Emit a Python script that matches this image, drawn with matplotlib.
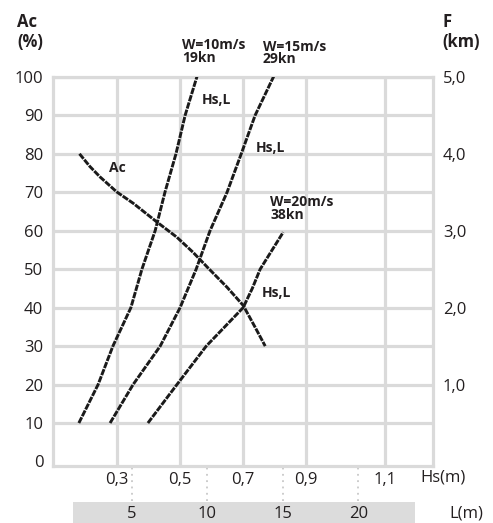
import numpy as np
import matplotlib.pyplot as plt

plt.rcParams['font.family'] = 'Open Sans'

# Hs (m) vs fetch F (km) for three wind speeds
hs_w10 = [0.179, 0.240, 0.287, 0.344, 0.379, 0.421, 0.452, 0.487, 0.516, 0.557]
f_w10 = [0.5, 1.0, 1.5, 2.0, 2.5, 3.0, 3.5, 4.0, 4.5, 5.05]
hs_w15 = [0.278, 0.351, 0.437, 0.500, 0.551, 0.595, 0.649, 0.694, 0.738, 0.802]
f_w15 = [0.5, 1.0, 1.5, 2.0, 2.5, 3.0, 3.5, 4.0, 4.5, 5.05]
hs_w20 = [0.398, 0.490, 0.583, 0.700, 0.729, 0.754, 0.792, 0.827]
f_w20 = [0.5, 1.0, 1.5, 2.0, 2.25, 2.5, 2.75, 2.98]

# Ac (%) vs Hs
hs_ac = [0.181, 0.214, 0.246, 0.299, 0.352, 0.426, 0.490, 0.541, 0.589, 0.649, 0.700, 0.738, 0.770]
ac = [80.0, 76.7, 74.0, 70.1, 67.1, 62.3, 58.3, 54.4, 50.3, 45.3, 40.6, 34.9, 30.0]

hs_ticks = [0.3, 0.5, 0.7, 0.9, 1.1]
ac_ticks = [0, 10, 20, 30, 40, 50, 60, 70, 80, 90, 100]
f_ticks = [1.0, 2.0, 3.0, 4.0, 5.0]
l_ticks = [5, 10, 15, 20]

grid_c = '#dadada'
txt_c = '#231f20'
line_c = '#1a1a1a'

fig = plt.figure(figsize=(4.93, 5.23), dpi=100)
ax = fig.add_axes([0.1075, 0.109, 0.771, 0.744])


# the original Hs axis is stretched after 0,9
def fwd(x):
    return np.interp(x, [-1, 0.9, 2], [-1, 0.9, 2.279])


def inv(x):
    return np.interp(x, [-1, 0.9, 2.279], [-1, 0.9, 2])


ax.set_xscale('function', functions=(fwd, inv))
ax.set_xlim(0.097, 1.221)
ax.set_ylim(-1.17, 100)

for h in hs_ticks:
    ax.axvline(h, color=grid_c, lw=2.3, zorder=0)
for a in ac_ticks[1:]:
    ax.axhline(a, color=grid_c, lw=2.3, zorder=0)
for s in ax.spines.values():
    s.set_color(grid_c)
    s.set_linewidth(2.3)

ax.set_xticks(hs_ticks)
ax.set_xticklabels([str(h).replace('.', ',') for h in hs_ticks])
ax.set_yticks(ac_ticks)
ax.tick_params(length=0, labelsize=12, colors=txt_c)
ax.tick_params(axis='y', pad=7)
ax.tick_params(axis='x', pad=4)

ax2 = ax.twinx()
ax2.set_ylim(-1.17 / 20, 5.0)
ax2.set_yticks(f_ticks)
ax2.set_yticklabels([f'{f:.1f}'.replace('.', ',') for f in f_ticks])
ax2.tick_params(length=0, labelsize=12, colors=txt_c, pad=7)
for s in ax2.spines.values():
    s.set_visible(False)

dash = (0, (2.2, 0.4))
ax2.plot(hs_w10, f_w10, color=line_c, lw=2.1, ls=dash)
ax2.plot(hs_w15, f_w15, color=line_c, lw=2.1, ls=dash)
ax2.plot(hs_w20, f_w20, color=line_c, lw=2.1, ls=dash)
ax.plot(hs_ac, ac, color=line_c, lw=2.1, ls=dash)

lab = dict(fontsize=10, fontweight='bold', color=txt_c, clip_on=False, linespacing=0.9)
ax.text(0.506, 110.0, 'W=10m/s\n19kn', va='top', ha='left', **lab)
ax.text(0.763, 109.7, 'W=15m/s\n29kn', va='top', ha='left', **lab)
ax.text(0.786, 69.3, 'W=20m/s\n38kn', va='top', ha='left', **lab)
ax.text(0.614, 93.9, 'Hs,L', va='center', ha='center', **lab)
ax.text(0.786, 81.4, 'Hs,L', va='center', ha='center', **lab)
ax.text(0.805, 43.8, 'Hs,L', va='center', ha='center', **lab)
ax.text(0.300, 76.2, 'Ac', va='center', ha='center', **lab)

fig.text(17 / 493, 1 - 13 / 523, 'Ac\n(%)', va='top', ha='left', fontsize=12,
         fontweight='bold', color=txt_c, linespacing=1.15)
fig.text(442 / 493, 1 - 13 / 523, 'F\n(km)', va='top', ha='left', fontsize=12,
         fontweight='bold', color=txt_c, linespacing=1.15)
fig.text(420 / 493, 1 - 477 / 523, 'Hs(m)', va='center', ha='left', fontsize=12, color=txt_c)
fig.text(449 / 493, 1 - 513 / 523, 'L(m)', va='center', ha='left', fontsize=12, color=txt_c)

# L scale bar under the chart
axL = fig.add_axes([73 / 493, 0, 342 / 493, 21 / 523])
axL.set_facecolor('#dcdcdc')
axL.set_xlim(1.12, 23.74)
axL.set_ylim(0, 1)
axL.set_xticks([])
axL.set_yticks([])
for s in axL.spines.values():
    s.set_visible(False)
tr = axL.get_xaxis_transform()
for l in l_ticks:
    axL.text(l, 0.45, str(l), transform=tr, ha='center', va='center', fontsize=12, color=txt_c)
    axL.plot([l, l], [1.05, 2.6], transform=tr, clip_on=False, ls=(0, (1, 2.5)),
             color='#c8c8c8', lw=1.3)

plt.savefig('out.png', dpi=100)
